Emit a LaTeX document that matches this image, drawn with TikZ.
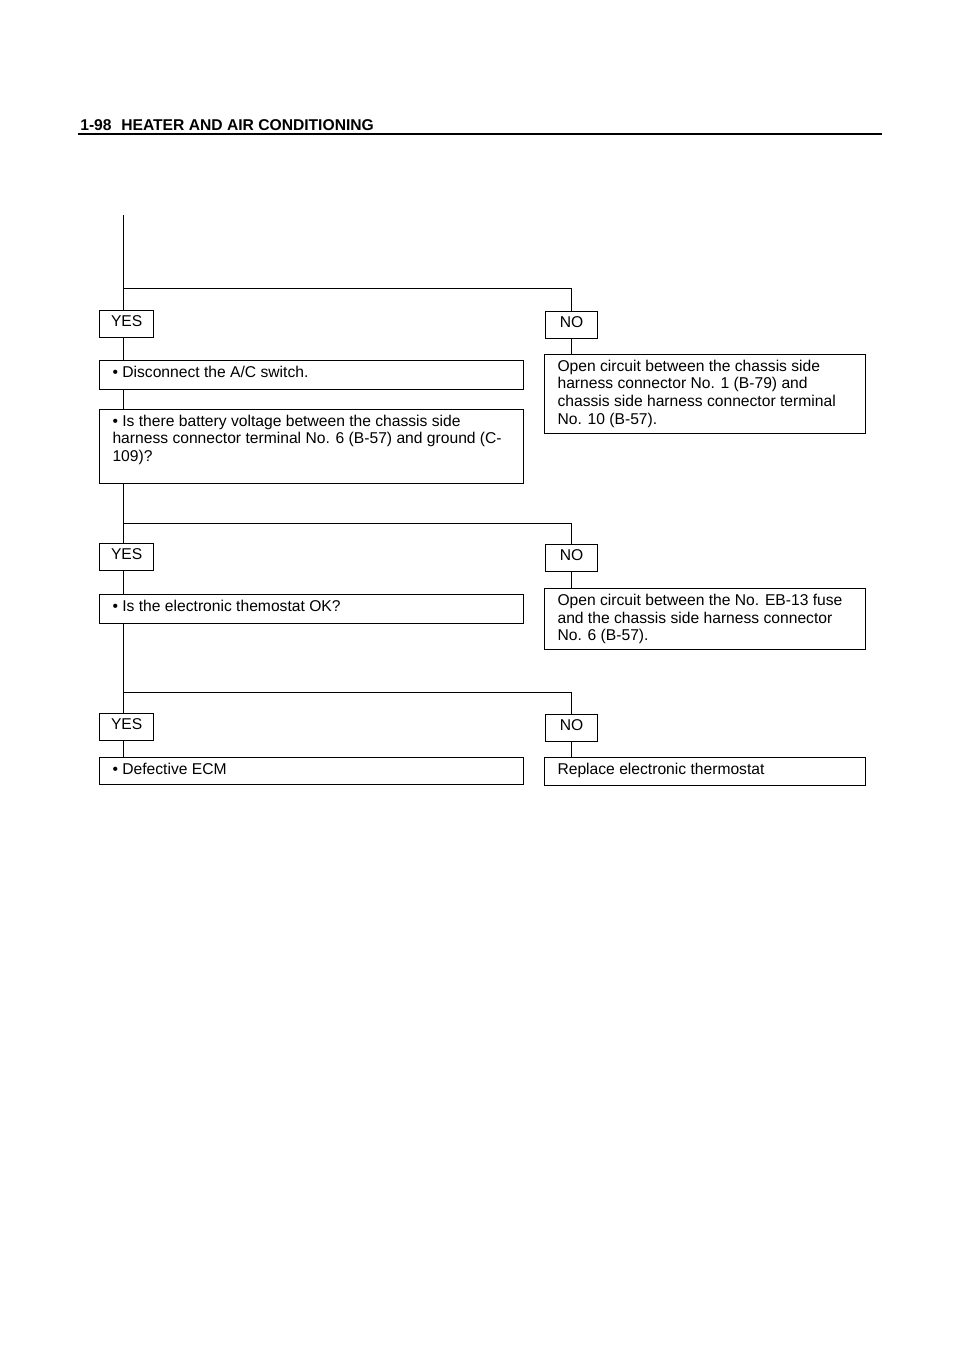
\documentclass[tikz,border=0pt]{standalone}
\usepackage{fontspec}
\setmainfont{Liberation Sans}
\newlength\px
\setlength\px{0.6201pt}
\newcommand{\flowtext}[3]{\parbox[t][\dimexpr#2\px-6pt\relax][t]{\dimexpr#1\px-16pt\relax}{\raggedright\rule{0pt}{7.3pt}#3}}
\tikzset{
  flowbox/.style={draw, line width=0.8pt, anchor=north west, inner xsep=8pt, inner ysep=3pt},
  ansbox/.style={draw, line width=0.8pt, anchor=north west, inner xsep=0pt, inner ysep=2.3pt,
    minimum width=#1, text height=7.3pt, text depth=4.8pt},
  ansbox/.default=33.5pt,
  link/.style={line width=0.6pt},
}

\begin{document}
\begin{tikzpicture}[x=0.6201pt, y=-0.6201pt, font=\fontsize{9.7}{11}\selectfont]
	\useasboundingbox (0,0) rectangle (960,1358);
	
	% page header
	\node[anchor=base west, inner sep=0pt, font=\fontsize{9.7}{11}\selectfont\bfseries] (head) at (80,131) {1-98\hspace{6pt}HEATER AND AIR CONDITIONING};
	\draw[line width=0.7pt] (78,134) -- (882,134);
	
	\coordinate (top) at (123,215);
	\coordinate (br1) at (123,288);
	\coordinate (br2) at (123,523);
	\coordinate (br3) at (123,692);
	
	% first check
	\node[ansbox] (yes1) at (99,310) {YES};
	\node[ansbox=32.2pt] (no1) at (545,311) {NO};
	\node[flowbox] (dis) at (99,360) {\flowtext{424}{29}{•~Disconnect the A/C switch.}};
	\node[flowbox] (bat) at (99,409) {\flowtext{424}{74}{•~Is there battery voltage between the chassis side\\harness connector terminal No. 6 (B-57) and ground (C-\\109)?}};
	\node[flowbox] (oc1) at (544,354) {\flowtext{321}{79}{Open circuit between the chassis side\\harness connector No. 1 (B-79) and\\chassis side harness connector terminal\\No. 10 (B-57).}};
	
	% second check
	\node[ansbox] (yes2) at (99,543) {YES};
	\node[ansbox=32.2pt] (no2) at (545,544) {NO};
	\node[flowbox] (thm) at (99,594) {\flowtext{424}{29}{•~Is the electronic themostat OK?}};
	\node[flowbox] (oc2) at (544,588) {\flowtext{321}{61}{Open circuit between the No. EB-13 fuse\\and the chassis side harness connector\\No. 6 (B-57).}};
	
	% third check
	\node[ansbox] (yes3) at (99,713) {YES};
	\node[ansbox=32.2pt] (no3) at (545,714) {NO};
	\node[flowbox] (ecm) at (99,757) {\flowtext{424}{27}{•~Defective ECM}};
	\node[flowbox] (rep) at (544,757) {\flowtext{321}{28}{Replace electronic thermostat}};
	
	\draw[link] (top) -- (top |- yes1.north);
	\draw[link] (br1) -| (no1.north);
	\draw[link] (top |- yes1.south) -- (top |- dis.north);
	\draw[link] (top |- dis.south) -- (top |- bat.north);
	\draw[link] (no1.south) -- (no1.south |- oc1.north);
	
	\draw[link] (top |- bat.south) -- (top |- yes2.north);
	\draw[link] (br2) -| (no2.north);
	\draw[link] (top |- yes2.south) -- (top |- thm.north);
	\draw[link] (no2.south) -- (no2.south |- oc2.north);
	
	\draw[link] (top |- thm.south) -- (top |- yes3.north);
	\draw[link] (br3) -| (no3.north);
	\draw[link] (top |- yes3.south) -- (top |- ecm.north);
	\draw[link] (no3.south) -- (no3.south |- rep.north);
\end{tikzpicture}
\end{document}
